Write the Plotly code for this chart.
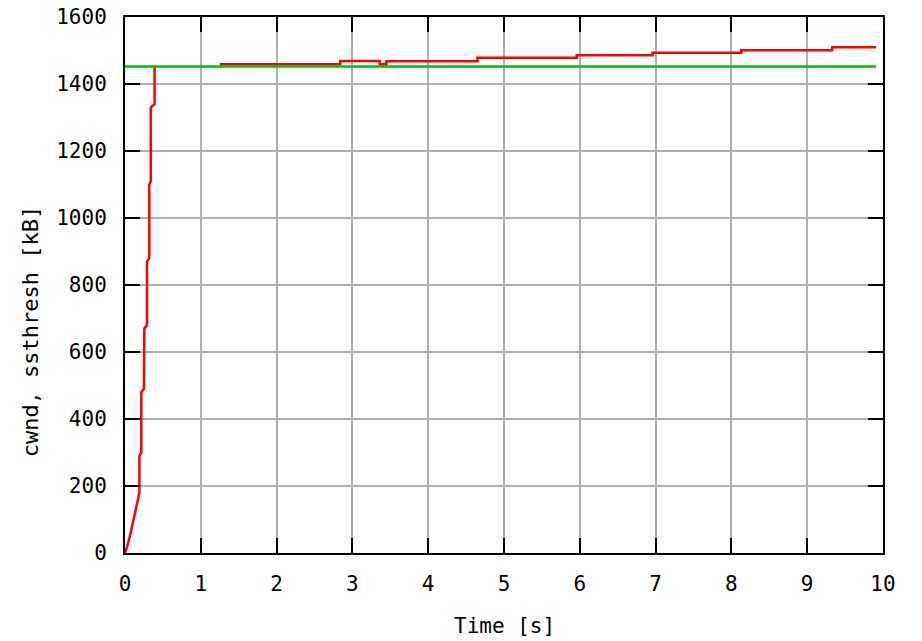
import plotly.graph_objects as go

# Slow-start ramp of the congestion window (time in s, cwnd in kB)
ramp_t = [0.0, 0.03, 0.07, 0.11, 0.15, 0.19, 0.19, 0.215, 0.215, 0.25, 0.255,
          0.29, 0.29, 0.32, 0.32, 0.34, 0.34, 0.39, 0.39]
ramp_cwnd = [0, 20, 55, 100, 140, 180, 290, 300, 480, 490, 670,
             680, 870, 880, 1100, 1110, 1330, 1340, 1452]

# Congestion-avoidance phase (step changes of cwnd)
ca_t = [1.25, 2.84, 3.36, 3.45, 4.65, 5.96, 6.96, 8.13, 9.33, 9.91]
ca_cwnd = [1459, 1469, 1459, 1468, 1478, 1486, 1493, 1501, 1510, 1510]

# Slow-start threshold
ssthresh_t = [0.0, 9.91]
ssthresh_val = [1452, 1452]

x_ticks = [0, 1, 2, 3, 4, 5, 6, 7, 8, 9, 10]
y_ticks = [0, 200, 400, 600, 800, 1000, 1200, 1400, 1600]

FONT = "DejaVu Sans Mono"
RED = "#ff0000"
GREEN = "#00c000"

fig = go.Figure()
fig.add_trace(go.Scatter(x=ramp_t, y=ramp_cwnd, mode="lines",
                         line=dict(color=RED, width=2.5), showlegend=False))
fig.add_trace(go.Scatter(x=ca_t, y=ca_cwnd, mode="lines",
                         line=dict(color=RED, width=2.5, shape="hv"), showlegend=False))
fig.add_trace(go.Scatter(x=ssthresh_t, y=ssthresh_val, mode="lines",
                         line=dict(color=GREEN, width=2.5), showlegend=False))

axis_common = dict(
    showgrid=True, gridcolor="#b0b0b0", gridwidth=1.5,
    showline=True, linecolor="black", linewidth=2, mirror="ticks",
    ticks="inside", ticklen=15, tickwidth=2, tickcolor="black",
    zeroline=False, automargin=False,
    tickfont=dict(family=FONT, size=21, color="black"),
)

fig.update_xaxes(range=[0, 10], tickvals=x_ticks,
                 ticktext=[str(v) for v in x_ticks],
                 ticklabelstandoff=11, **axis_common)
fig.update_yaxes(range=[0, 1600], tickvals=y_ticks,
                 ticktext=[str(v) for v in y_ticks],
                 ticklabelstandoff=12, **axis_common)

fig.add_annotation(text="Time [s]", xref="paper", yref="paper",
                   x=0.5, y=-0.136, xanchor="center", yanchor="middle",
                   showarrow=False, font=dict(family=FONT, size=21, color="black"))
fig.add_annotation(text="cwnd, ssthresh [kB]", xref="paper", yref="paper",
                   x=-0.125, y=0.414, xanchor="center", yanchor="middle",
                   textangle=-90, showarrow=False,
                   font=dict(family=FONT, size=22, color="black"))

fig.update_layout(
    width=922, height=641,
    margin=dict(l=125, r=39, t=17, b=88),
    paper_bgcolor="white", plot_bgcolor="white",
)

fig.write_html("out.html")
